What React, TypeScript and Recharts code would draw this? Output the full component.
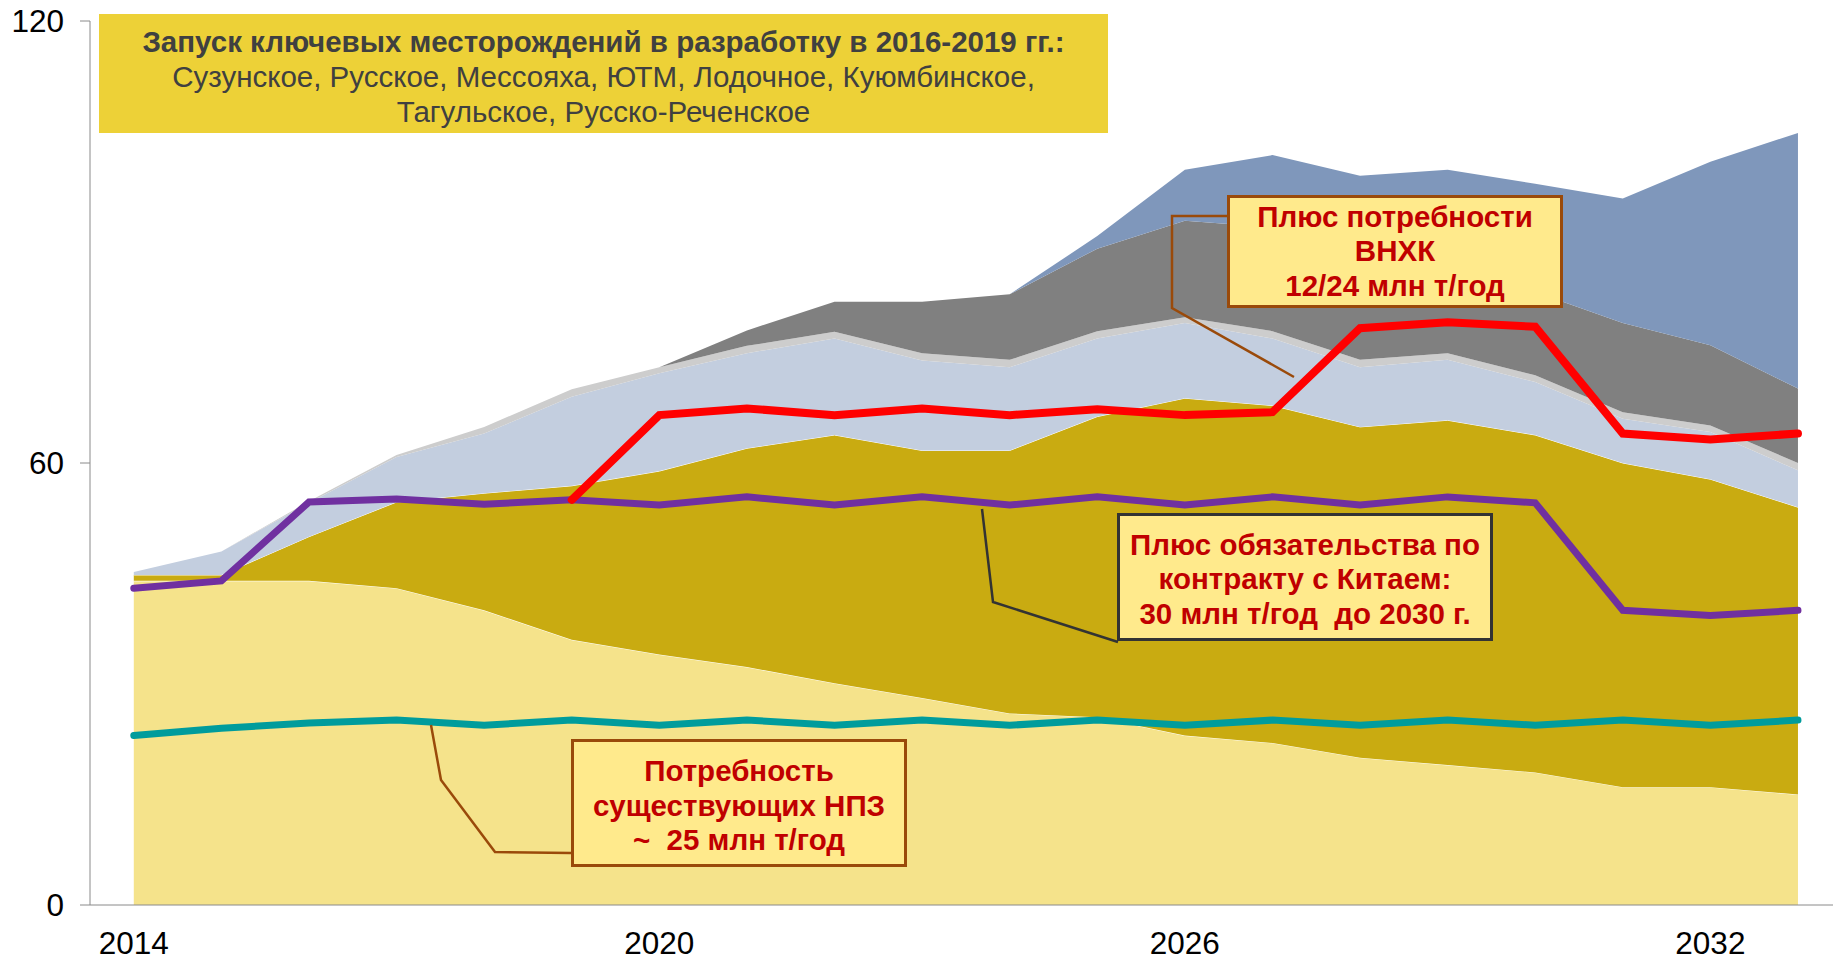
import { ComposedChart, Area, Line, XAxis, YAxis } from 'recharts';

// years on the axis
const YEARS = [2014, 2015, 2016, 2017, 2018, 2019, 2020, 2021, 2022, 2023, 2024, 2025, 2026, 2027, 2028, 2029, 2030, 2031, 2032, 2033];

// stacked supply layers, млн т/год (increments, bottom to top)
const EXISTING = [44, 44, 44, 43, 40, 36, 34, 32.3, 30.1, 28.1, 26, 25.5, 23, 22, 20, 19, 18, 16, 16, 15];
const NEW_FIELDS = [0.8, 0.8, 6, 11.7, 15.9, 20.9, 24.9, 29.7, 33.7, 33.6, 35.7, 40.8, 45.8, 45.8, 44.9, 46.8, 45.8, 44, 41.8, 39];
const LIGHT_BLUE = [0.4, 3.2, 4.6, 6.1, 8.1, 12.1, 13.3, 12.9, 13.1, 12.2, 11.3, 10.6, 10.2, 9.1, 8.1, 8.2, 7.2, 6, 6.4, 5];
const GRAY_STRIPE = [0, 0, 0.2, 0.3, 0.9, 1, 0.8, 1, 0.9, 1, 1, 1, 0.8, 1, 1, 0.9, 0.9, 0.9, 0.9, 1];
const DARK_GRAY = [0, 0, 0, 0, 0, 0, 0, 2.1, 4.1, 7, 8.9, 11.2, 13.1, 14.1, 15, 12.1, 11.3, 12.1, 10.9, 10.1];
const STEEL = [0, 0, 0, 0, 0, 0, 0, 0, 0, 0, 0, 1.7, 6.9, 9.8, 10, 12.8, 14.7, 16.9, 24.9, 34.7];

// demand lines
const REFINERY_NEED = [23, 24, 24.7, 25.1, 24.4, 25.1, 24.4, 25.1, 24.4, 25.1, 24.4, 25.1, 24.4, 25.1, 24.4, 25.1, 24.4, 25.1, 24.4, 25.1];
const PLUS_CHINA = [43, 44, 54.7, 55.1, 54.4, 55, 54.3, 55.4, 54.3, 55.4, 54.3, 55.4, 54.3, 55.4, 54.3, 55.4, 54.6, 40, 39.3, 40];
const PLUS_VNHK = [null, null, null, null, null, 55, 66.5, 67.4, 66.5, 67.4, 66.5, 67.3, 66.5, 66.9, 78.3, 79.1, 78.5, 64, 63.2, 64];

const X_TICKS = [2014, 2020, 2026, 2032];
const Y_TICKS = [0, 60, 120];

const data = YEARS.map((year, i) => ({
  year,
  existing: EXISTING[i],
  newFields: NEW_FIELDS[i],
  lightBlue: LIGHT_BLUE[i],
  grayStripe: GRAY_STRIPE[i],
  darkGray: DARK_GRAY[i],
  steel: STEEL[i],
  refinery: REFINERY_NEED[i],
  china: PLUS_CHINA[i],
  vnhk: PLUS_VNHK[i],
}));

const FONT = '"Liberation Sans", Arial, sans-serif';

const calloutStyle = (left: number, top: number, width: number, height: number, border: string) => ({
  position: 'absolute' as const,
  left,
  top,
  width,
  height,
  boxSizing: 'border-box' as const,
  background: '#FFEA8C',
  border: `3px solid ${border}`,
  display: 'flex',
  flexDirection: 'column' as const,
  justifyContent: 'center',
  alignItems: 'center',
  color: '#C00000',
  fontFamily: FONT,
  fontWeight: 700,
  fontSize: 29.5,
  lineHeight: '34.5px',
  textAlign: 'center' as const,
  whiteSpace: 'pre' as const,
});

export default function App() {
  return (
    <div style={{ position: 'absolute', left: 0, top: 0, width: 1833, height: 958, background: '#fff' }}>
      <ComposedChart width={1833} height={958} data={data} margin={{ top: 21, right: 0, bottom: 0, left: 0 }}>
        <XAxis
          dataKey="year"
          type="number"
          domain={[2013.5, 2033.4]}
          ticks={X_TICKS}
          allowDataOverflow
          height={53}
          stroke="#8a8a8a"
          tickLine={false}
          tickSize={0}
          tickMargin={27}
          tick={{ fill: '#000', fontSize: 31.5, fontFamily: FONT }}
        />
        <YAxis
          type="number"
          domain={[0, 120]}
          ticks={Y_TICKS}
          width={90}
          stroke="#8a8a8a"
          tickSize={10}
          tickMargin={16}
          tick={{ fill: '#000', fontSize: 31.5, fontFamily: FONT }}
        />
        <Area type="linear" dataKey="existing" stackId="s" fill="#F5E38B" fillOpacity={1} stroke="#fff" strokeWidth={1} isAnimationActive={false} />
        <Area type="linear" dataKey="newFields" stackId="s" fill="#C9AB11" fillOpacity={1} stroke="#fff" strokeWidth={1} isAnimationActive={false} />
        <Area type="linear" dataKey="lightBlue" stackId="s" fill="#C3CEDF" fillOpacity={1} stroke="none" isAnimationActive={false} />
        <Area type="linear" dataKey="grayStripe" stackId="s" fill="#CDCDCD" fillOpacity={1} stroke="none" isAnimationActive={false} />
        <Area type="linear" dataKey="darkGray" stackId="s" fill="#808080" fillOpacity={1} stroke="none" isAnimationActive={false} />
        <Area type="linear" dataKey="steel" stackId="s" fill="#7F97BB" fillOpacity={1} stroke="none" isAnimationActive={false} />
        <Line type="linear" dataKey="refinery" stroke="#009C9C" strokeWidth={7} dot={false} strokeLinecap="round" isAnimationActive={false} />
        <Line type="linear" dataKey="china" stroke="#7030A0" strokeWidth={7} dot={false} strokeLinecap="round" isAnimationActive={false} />
        <Line type="linear" dataKey="vnhk" stroke="#FF0000" strokeWidth={8} dot={false} strokeLinecap="round" isAnimationActive={false} />
      </ComposedChart>

      <svg width={1833} height={958} style={{ position: 'absolute', left: 0, top: 0, pointerEvents: 'none' }}>
        <polyline points="1227,216 1172,216 1172,308 1294,377" fill="none" stroke="#9A4A0A" strokeWidth={2.5} />
        <polyline points="982,509 993,602 1118,642" fill="none" stroke="#333333" strokeWidth={2.5} />
        <polyline points="431,725 441,780 495,852 571,853" fill="none" stroke="#9A4A0A" strokeWidth={2.5} />
      </svg>

      <div
        style={{
          position: 'absolute',
          left: 99,
          top: 14,
          width: 1009,
          height: 119,
          background: '#EDD137',
          display: 'flex',
          flexDirection: 'column',
          justifyContent: 'center',
          alignItems: 'center',
          color: '#404040',
          fontFamily: FONT,
          fontSize: 29.5,
          lineHeight: '35px',
          paddingTop: 6,
          boxSizing: 'border-box',
          whiteSpace: 'nowrap',
        }}
      >
        <div style={{ fontWeight: 700 }}>Запуск ключевых месторождений в разработку в 2016-2019 гг.:</div>
        <div>Сузунское, Русское, Мессояха, ЮТМ, Лодочное, Куюмбинское,</div>
        <div>Тагульское, Русско-Реченское</div>
      </div>

      <div style={calloutStyle(1227, 195, 336, 113, '#9A4A0A')}>
        <div>Плюс потребности</div>
        <div>ВНХК</div>
        <div>12/24 млн т/год</div>
      </div>

      <div style={{ ...calloutStyle(1117, 513, 376, 128, '#333333'), paddingTop: 5 }}>
        <div>Плюс обязательства по</div>
        <div>контракту с Китаем:</div>
        <div>30 млн т/год  до 2030 г.</div>
      </div>

      <div style={{ ...calloutStyle(571, 739, 336, 128, '#9A4A0A'), paddingTop: 6 }}>
        <div>Потребность</div>
        <div>существующих НПЗ</div>
        <div>~  25 млн т/год</div>
      </div>
    </div>
  );
}
